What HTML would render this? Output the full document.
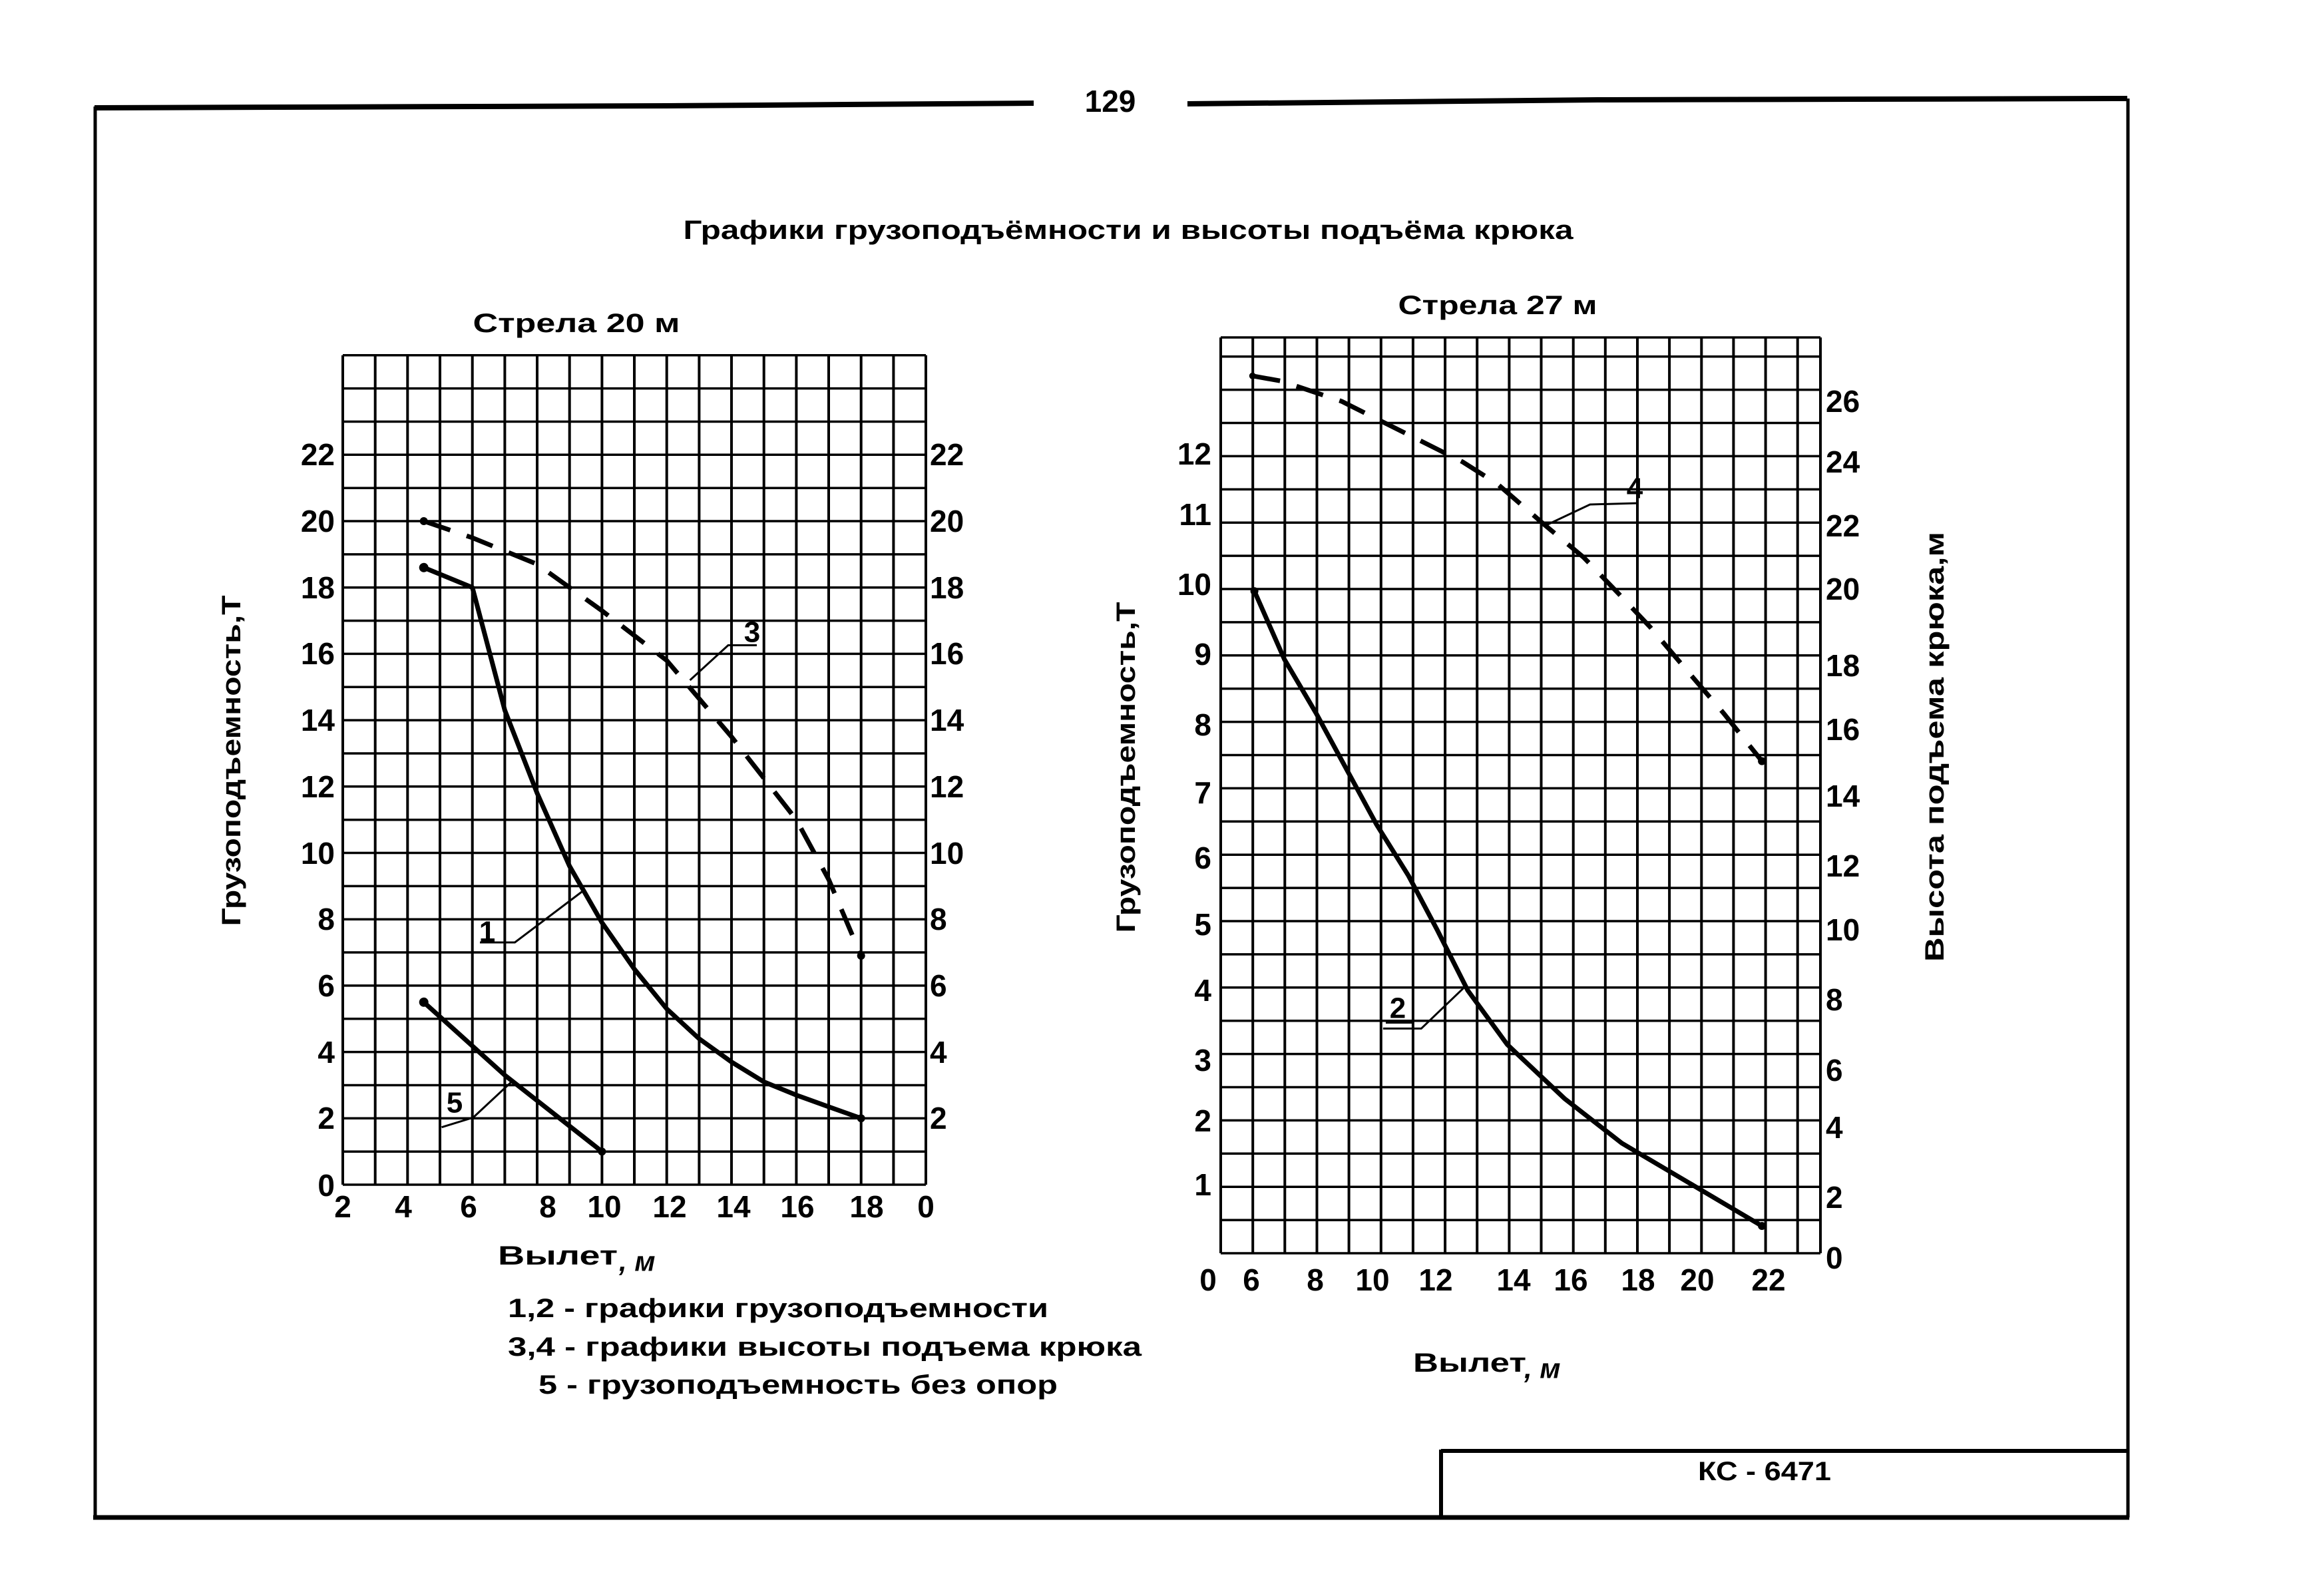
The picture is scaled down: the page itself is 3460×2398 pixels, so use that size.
<!DOCTYPE html>
<html><head><meta charset="utf-8"><style>
html,body{margin:0;padding:0;background:#fff;}
svg{display:block;}
text{font-family:"Liberation Sans",Arial,sans-serif;font-weight:bold;fill:#000;}
</style></head><body>
<svg width="3460" height="2398" viewBox="0 0 3460 2398" xmlns="http://www.w3.org/2000/svg">
<rect width="3460" height="2398" fill="#fff"/>
<g stroke="#000" fill="none">
<path d="M142 162 L1000 159 L1553 155" stroke-width="8"/>
<path d="M1784 156 L2400 150 L3196 148" stroke-width="8"/>
<path d="M143 160 V2280" stroke-width="5"/>
<path d="M3197 148 V2280" stroke-width="5"/>
<path d="M140 2280 H3199" stroke-width="7"/>
<path d="M2165 2180 H3197 M2165 2178 V2280" stroke-width="6"/>
</g>
<text x="1668" y="152" font-size="46" text-anchor="middle" dominant-baseline="central">129</text>
<text x="1695" y="346" font-size="40" text-anchor="middle" dominant-baseline="central" textLength="1337" lengthAdjust="spacingAndGlyphs">Графики грузоподъёмности и высоты подъёма крюка</text>
<text x="2651" y="2211" font-size="40" text-anchor="middle" dominant-baseline="central" textLength="200" lengthAdjust="spacingAndGlyphs">КС - 6471</text>

<text x="866" y="486" font-size="40" text-anchor="middle" dominant-baseline="central" textLength="311" lengthAdjust="spacingAndGlyphs">Стрела 20 м</text>
<g stroke="#000" fill="none">
<path stroke-width="4" d="M515 533.8V1780 M563.7 533.8V1780 M612.3 533.8V1780 M661 533.8V1780 M709.7 533.8V1780 M758.4 533.8V1780 M807 533.8V1780 M855.7 533.8V1780 M904.4 533.8V1780 M953 533.8V1780 M1001.7 533.8V1780 M1050.4 533.8V1780 M1099 533.8V1780 M1147.7 533.8V1780 M1196.4 533.8V1780 M1245 533.8V1780 M1293.7 533.8V1780 M1342.4 533.8V1780 M1391 533.8V1780"/>
<path stroke-width="3.5" d="M515 1780H1391 M515 1730.2H1391 M515 1680.3H1391 M515 1630.5H1391 M515 1580.6H1391 M515 1530.8H1391 M515 1480.9H1391 M515 1431H1391 M515 1381.2H1391 M515 1331.4H1391 M515 1281.5H1391 M515 1231.7H1391 M515 1181.8H1391 M515 1132H1391 M515 1082.1H1391 M515 1032.3H1391 M515 982.4H1391 M515 932.6H1391 M515 882.7H1391 M515 832.9H1391 M515 783H1391 M515 733.2H1391 M515 683.3H1391 M515 633.5H1391 M515 583.6H1391 M515 533.8H1391"/>
<polyline stroke-width="7" stroke-linejoin="round" points="636.7,852.8 709.7,882.7 758.4,1067.1 807,1191.8 855.7,1301.4 904.4,1386.2 953,1456 1001.7,1515.8 1050.4,1560.7 1099,1595.6 1147.7,1625.5 1196.4,1645.4 1245,1662.9 1293.7,1680.3"/>
<polyline stroke-width="7" stroke-dasharray="42,26" points="636.7,783 709.7,808 807,847.8 904.4,917.6 1001.7,992.4 1099,1107 1196.4,1231.7 1245,1321.4 1293.7,1436"/>
<polyline stroke-width="7" points="636.7,1505.8 758.4,1615.5 904.4,1730.2"/>
<polyline stroke-width="3" points="721,1416 773.5,1416 874,1340"/>
<polyline stroke-width="3" points="1036.6,1022 1094,969.5 1137,969.5"/>
<polyline stroke-width="3" points="663.5,1693.7 711,1679 769,1625"/>
</g>
<g fill="#000">
<circle cx="636.7" cy="852.8" r="7"/><circle cx="636.7" cy="783" r="6"/><circle cx="636.7" cy="1505.8" r="7"/>
<circle cx="1293.7" cy="1680.3" r="6"/><circle cx="1293.7" cy="1436" r="6"/><circle cx="904.4" cy="1730.2" r="6"/>
</g>
<text x="732" y="1400" font-size="44" text-anchor="middle" dominant-baseline="central">1</text>
<text x="1130" y="950" font-size="44" text-anchor="middle" dominant-baseline="central">3</text>
<text x="683" y="1657" font-size="44" text-anchor="middle" dominant-baseline="central">5</text>
<g font-size="46" text-anchor="end" dominant-baseline="central">
<text x="503" y="1781">0</text><text x="503" y="1680">2</text><text x="503" y="1581">4</text><text x="503" y="1481">6</text><text x="503" y="1381">8</text><text x="503" y="1282">10</text><text x="503" y="1182">12</text><text x="503" y="1082">14</text><text x="503" y="982">16</text><text x="503" y="883">18</text><text x="503" y="783">20</text><text x="503" y="683">22</text>
</g>
<g font-size="46" text-anchor="start" dominant-baseline="central">
<text x="1397" y="1680">2</text><text x="1397" y="1581">4</text><text x="1397" y="1481">6</text><text x="1397" y="1381">8</text><text x="1397" y="1282">10</text><text x="1397" y="1182">12</text><text x="1397" y="1082">14</text><text x="1397" y="982">16</text><text x="1397" y="883">18</text><text x="1397" y="783">20</text><text x="1397" y="683">22</text>
</g>
<g font-size="46" text-anchor="middle" dominant-baseline="central">
<text x="515" y="1813">2</text><text x="606" y="1813">4</text><text x="704" y="1813">6</text><text x="823" y="1813">8</text><text x="908" y="1813">10</text><text x="1006" y="1813">12</text><text x="1102" y="1813">14</text><text x="1198" y="1813">16</text><text x="1302" y="1813">18</text><text x="1391" y="1813">0</text>
</g>
<text transform="translate(348,1143) rotate(-90)" font-size="40" text-anchor="middle" dominant-baseline="central" textLength="497" lengthAdjust="spacingAndGlyphs">Грузоподъемность,Т</text>
<text x="748" y="1887" font-size="40" dominant-baseline="central" textLength="180" lengthAdjust="spacingAndGlyphs">Вылет</text>
<text x="930" y="1895" font-size="42" font-style="italic" font-weight="normal" dominant-baseline="central">, м</text>
<text x="763" y="1966" font-size="40" dominant-baseline="central" textLength="812" lengthAdjust="spacingAndGlyphs">1,2 - графики грузоподъемности</text>
<text x="763" y="2024" font-size="40" dominant-baseline="central" textLength="952" lengthAdjust="spacingAndGlyphs">3,4 - графики высоты подъема крюка</text>
<text x="809" y="2081" font-size="40" dominant-baseline="central" textLength="780" lengthAdjust="spacingAndGlyphs">5 - грузоподъемность без опор</text>

<text x="2250" y="459" font-size="40" text-anchor="middle" dominant-baseline="central" textLength="299" lengthAdjust="spacingAndGlyphs">Стрела 27 м</text>
<g stroke="#000" fill="none">
<path stroke-width="4" d="M1834 507V1883 M1882.2 507V1883 M1930.3 507V1883 M1978.5 507V1883 M2026.6 507V1883 M2074.8 507V1883 M2122.9 507V1883 M2171.1 507V1883 M2219.2 507V1883 M2267.4 507V1883 M2315.5 507V1883 M2363.7 507V1883 M2411.8 507V1883 M2460 507V1883 M2508.1 507V1883 M2556.3 507V1883 M2604.4 507V1883 M2652.6 507V1883 M2700.7 507V1883 M2735 507V1883"/>
<path stroke-width="3.5" d="M1834 1883H2735 M1834 1833.1H2735 M1834 1783.2H2735 M1834 1733.3H2735 M1834 1683.4H2735 M1834 1633.5H2735 M1834 1583.6H2735 M1834 1533.7H2735 M1834 1483.8H2735 M1834 1433.9H2735 M1834 1384H2735 M1834 1334.1H2735 M1834 1284.2H2735 M1834 1234.3H2735 M1834 1184.4H2735 M1834 1134.5H2735 M1834 1084.6H2735 M1834 1034.7H2735 M1834 984.8H2735 M1834 934.9H2735 M1834 885H2735 M1834 835.1H2735 M1834 785.2H2735 M1834 735.3H2735 M1834 685.4H2735 M1834 635.5H2735 M1834 585.6H2735 M1834 535.7H2735 M1834 507H2735"/>
<polyline stroke-width="7" stroke-linejoin="round" points="1884.6,888.2 1929.6,990.5 1977.4,1071.8 2068.3,1239.2 2116.1,1315.8 2159.2,1397.1 2205.1,1488 2264.4,1569.3 2350.5,1650.6 2436.6,1717.6 2541.9,1779.8 2647.1,1842"/>
<polyline stroke-width="7" stroke-dasharray="42,26" points="1881.8,564.8 1924.8,572.5 2015.7,603 2111.4,650.9 2197.5,694 2250,727.4 2321.8,789.6 2379.2,837.4 2431.8,892 2479.7,942.7 2532.3,1004.9 2589.7,1071.8 2647.1,1143.6"/>
<polyline stroke-width="3" points="2321.8,789.6 2388.8,758 2460.6,756"/>
<polyline stroke-width="3" points="2077.9,1545.4 2135.3,1545.4 2202.2,1481.3"/>
<path stroke-width="4" d="M2082 1536 H2122"/>
</g>
<g fill="#000"><circle cx="1884.6" cy="888.2" r="6"/><circle cx="2647.1" cy="1842" r="6"/><circle cx="2647.1" cy="1143.6" r="6"/><circle cx="1881.8" cy="564.8" r="5"/></g>
<text x="2456" y="734" font-size="44" text-anchor="middle" dominant-baseline="central">4</text>
<text x="2100" y="1515" font-size="44" text-anchor="middle" dominant-baseline="central">2</text>
<g font-size="46" text-anchor="end" dominant-baseline="central">
<text x="1820" y="1780">1</text><text x="1820" y="1684">2</text><text x="1820" y="1593">3</text><text x="1820" y="1488">4</text><text x="1820" y="1389">5</text><text x="1820" y="1289">6</text><text x="1820" y="1191">7</text><text x="1820" y="1089">8</text><text x="1820" y="983">9</text><text x="1820" y="878">10</text><text x="1820" y="773">11</text><text x="1820" y="682">12</text>
</g>
<g font-size="46" text-anchor="start" dominant-baseline="central">
<text x="2743" y="1890">0</text><text x="2743" y="1799">2</text><text x="2743" y="1694">4</text><text x="2743" y="1608">6</text><text x="2743" y="1502">8</text><text x="2743" y="1397">10</text><text x="2743" y="1301">12</text><text x="2743" y="1196">14</text><text x="2743" y="1096">16</text><text x="2743" y="1000">18</text><text x="2743" y="885">20</text><text x="2743" y="790">22</text><text x="2743" y="694">24</text><text x="2743" y="603">26</text>
</g>
<g font-size="46" text-anchor="middle" dominant-baseline="central">
<text x="1815" y="1923">0</text><text x="1880" y="1923">6</text><text x="1976" y="1923">8</text><text x="2062" y="1923">10</text><text x="2157" y="1923">12</text><text x="2274" y="1923">14</text><text x="2360" y="1923">16</text><text x="2461" y="1923">18</text><text x="2550" y="1923">20</text><text x="2657" y="1923">22</text>
</g>
<text transform="translate(1692,1153) rotate(-90)" font-size="40" text-anchor="middle" dominant-baseline="central" textLength="497" lengthAdjust="spacingAndGlyphs">Грузоподъемность,Т</text>
<text transform="translate(2907,1122) rotate(-90)" font-size="40" text-anchor="middle" dominant-baseline="central" textLength="646" lengthAdjust="spacingAndGlyphs">Высота подъема крюка,м</text>
<text x="2123" y="2048" font-size="40" dominant-baseline="central" textLength="170" lengthAdjust="spacingAndGlyphs">Вылет</text>
<text x="2290" y="2056" font-size="42" font-style="italic" font-weight="normal" dominant-baseline="central">, м</text>
</svg>
</body></html>
